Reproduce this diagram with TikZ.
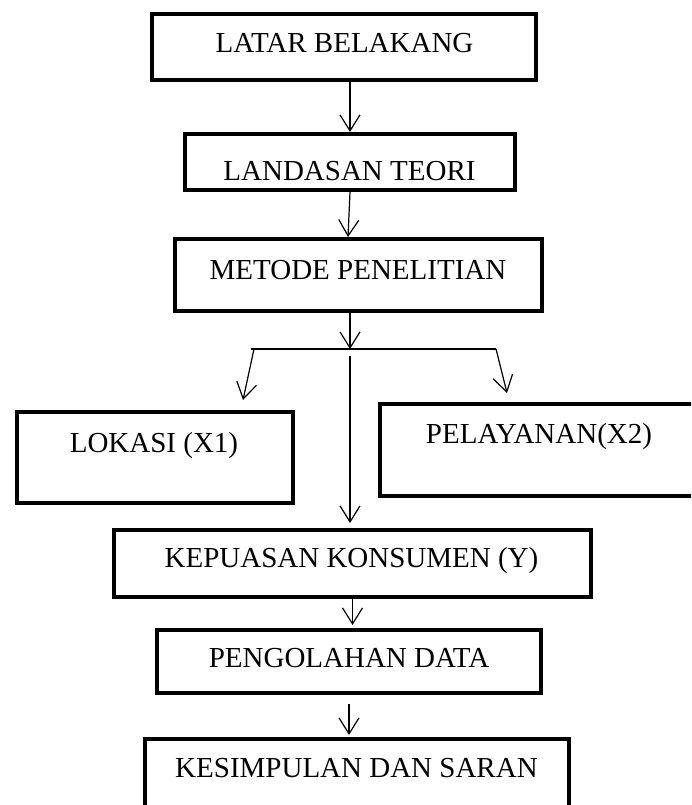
\documentclass[tikz,border=0pt]{standalone}
\usepackage{fontspec}
\setmainfont{Liberation Serif}
\usetikzlibrary{arrows.meta,calc}
\begin{document}
\begin{tikzpicture}[x=1pt,y=-1pt,
  box/.style={draw=black,line width=4pt,rectangle,inner sep=0pt},
  lbl/.style={anchor=base,inner sep=0pt,font=\fontsize{29}{34}\selectfont},
  arr/.style={line width=1.2pt,-{Straight Barb[length=16pt,width=20pt,line width=1.2pt]}},
  conn/.style={line width=1.2pt}]
\useasboundingbox[fill=white] (0,0) rectangle (691,805);
\clip (0,0) rectangle (691,805);
% boxes
\node[box,minimum width=384pt,minimum height=66pt] (b1) at (344,47) {};
\node[box,minimum width=330pt,minimum height=56pt] (b2) at (350,162) {};
\node[box,minimum width=367pt,minimum height=72pt] (b3) at (358.5,275) {};
\node[box,minimum width=276pt,minimum height=91pt] (b4) at (155,457.5) {};
\node[box,minimum width=340pt,minimum height=92pt] (b5) at (550,450) {};
\node[box,minimum width=477pt,minimum height=67pt] (b6) at (352.5,563.5) {};
\node[box,minimum width=384pt,minimum height=63pt] (b7) at (349,661.5) {};
\node[box,minimum width=424pt,minimum height=101pt] (b8) at (357,789.5) {};
% texts
\node[lbl] (t1) at (344.5,53) {LATAR BELAKANG};
\node[lbl] (t2) at (349.5,180) {LANDASAN TEORI};
\node[lbl] (t3) at (358,279) {METODE PENELITIAN};
\node[lbl] (t4) at (154,452) {LOKASI (X1)};
\node[lbl] (t5) at (539,443) {PELAYANAN(X2)};
\node[lbl] (t6) at (351.5,567) {KEPUASAN KONSUMEN (Y)};
\node[lbl] (t7) at (349,667) {PENGOLAHAN DATA};
\node[lbl] (t8) at (356.5,777) {KESIMPULAN DAN SARAN};
% junction coordinates
\coordinate (j) at (350,349);
\coordinate (jl) at (251,349);
\coordinate (jr) at (496,349);
\coordinate (lt) at (243,400);
\coordinate (rt) at (507,393);
% connectors
\draw[arr] (b1.south -| b2.north) -- (b2.north);
\draw[arr] (b2.south) -- ($(b2.south |- b3.north)+(-2,0)$);
\draw[arr] (b3.south -| j) -- (j);
\draw[conn] (jl) -- (jr);
\draw[arr] ($(jl)+(3,0)$) -- (lt);
\draw[arr] (jr) -- (rt);
\draw[arr] ($(j)+(0,7)$) -- ($(b6.north -| j)+(0,-5)$);
\draw[arr] ($(b6.south)+(0,-3)$) -- ($(b7.north -| b6.south)+(0,-3)$);
\draw[arr] ($(b7.south)+(0,9)$) -- ($(b8.north -| b7.south)+(0,-2)$);
\end{tikzpicture}
\end{document}
